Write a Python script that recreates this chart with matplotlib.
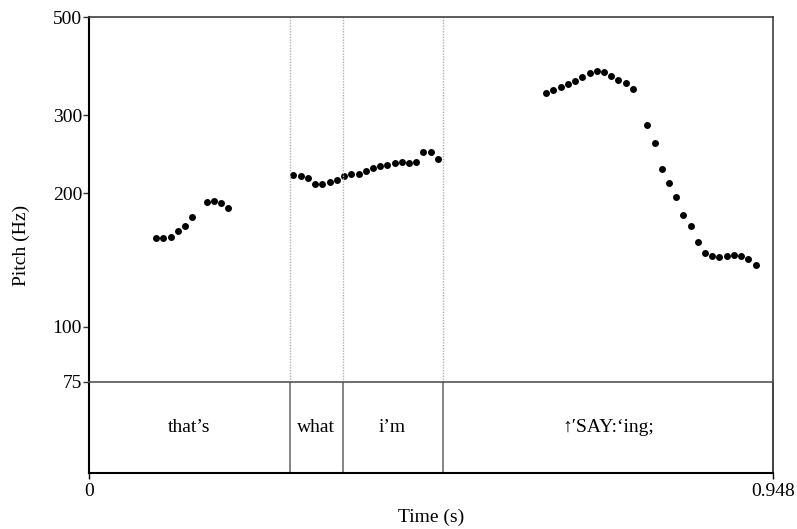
import matplotlib
matplotlib.use("Agg")
import matplotlib.pyplot as plt
from matplotlib.ticker import FixedLocator, FixedFormatter, NullLocator

plt.rcParams['font.family'] = ['Liberation Serif', 'DejaVu Serif']

# pitch track (s, Hz)
t_pitch = [0.0929, 0.1030, 0.1132, 0.1234, 0.1331, 0.1432, 0.1631, 0.1733, 0.1830, 0.1931,
           0.2832, 0.2934, 0.3035, 0.3132, 0.3234, 0.3336, 0.3437, 0.3534, 0.3636, 0.3738,
           0.3835, 0.3936, 0.4033, 0.4134, 0.4237, 0.4334, 0.4435, 0.4532, 0.4633, 0.4736,
           0.4837,
           0.6334, 0.6435, 0.6538, 0.6639, 0.6736, 0.6837, 0.6940, 0.7037, 0.7138, 0.7235,
           0.7336, 0.7439, 0.7540,
           0.7738, 0.7841, 0.7938, 0.8039, 0.8140, 0.8237, 0.8340, 0.8441, 0.8538, 0.8635,
           0.8736, 0.8838, 0.8940, 0.9041, 0.9138, 0.9240]
f0_hz = [158.3, 158.3, 159.6, 164.4, 169.0, 176.8, 190.8, 192.2, 190.5, 185.3,
         220.3, 218.8, 216.2, 210.2, 210.2, 212.4, 213.9, 218.4, 220.8, 221.1,
         224.6, 228.5, 230.8, 231.3, 233.8, 235.7, 233.8, 235.7, 248.3, 248.3,
         238.6,
         336.3, 342.7, 348.0, 353.0, 359.0, 366.0, 373.7, 377.6, 376.2, 368.6,
         361.0, 354.8, 343.9,
         285.7, 259.3, 226.6, 211.0, 196.5, 178.4, 169.0, 155.3, 146.6, 144.2,
         143.4, 144.6, 145.1, 144.2, 142.2, 137.8]

# text tier
bounds = [0.0, 0.2786, 0.3516, 0.4902, 0.948]
words = ["that\u2019s", "what", "i\u2019m", "\u2191\u2032SAY:\u2018ing;"]

y_ticks = [75, 100, 200, 300, 500]
t_max = 0.948

fig = plt.figure(figsize=(7.97, 5.29), dpi=100)
left, width = 89 / 797, 684 / 797
ax = fig.add_axes([left, 1 - 382 / 529, width, 365 / 529])
tier = fig.add_axes([left, 1 - 473 / 529, width, 91 / 529])
tier.patch.set_visible(False)

fs = 14

# pitch panel
ax.plot(t_pitch, f0_hz, 'o', color='black', ms=5, mew=0)
ax.set_yscale('log')
ax.set_ylim(75, 500)
ax.set_xlim(0, t_max)
ax.yaxis.set_major_locator(FixedLocator(y_ticks))
ax.yaxis.set_major_formatter(FixedFormatter([str(v) for v in y_ticks]))
ax.yaxis.set_minor_locator(NullLocator())
ax.set_xticks([])
ax.tick_params(axis='y', direction='out', length=4, width=1, labelsize=fs, pad=1, color='#333333')
for b in bounds[1:-1]:
    ax.axvline(b, color='#b0b0b0', lw=1, ls=(0, (1, 1)))
ax.spines['left'].set_color('black')
ax.spines['left'].set_linewidth(1.5)
for s in ('top', 'right'):
    ax.spines[s].set_color('#404040')
    ax.spines[s].set_linewidth(1.2)
ax.spines['bottom'].set_visible(False)

# tier panel
tier.set_xlim(0, t_max)
tier.set_ylim(0, 1)
tier.set_yticks([])
tier.set_xticks([0, t_max])
tier.set_xticklabels(['0', '0.948'])
tier.tick_params(axis='x', direction='out', length=4, width=1, labelsize=fs, pad=3)
for b in bounds[1:-1]:
    tier.axvline(b, color='#707070', lw=1.2)
for i, w in enumerate(words):
    tier.text((bounds[i] + bounds[i + 1]) / 2, 0.5, w, ha='center', va='center', fontsize=fs)
tier.spines['top'].set_color('#555555')
tier.spines['top'].set_linewidth(1.2)
tier.spines['left'].set_color('black')
tier.spines['left'].set_linewidth(1.5)
tier.spines['bottom'].set_color('black')
tier.spines['bottom'].set_linewidth(1.5)
tier.spines['right'].set_color('#202020')
tier.spines['right'].set_linewidth(1.2)

fig.text(21 / 797, 1 - 245 / 529, 'Pitch (Hz)', rotation=90, ha='center', va='center', fontsize=fs)
fig.text(431 / 797, 1 - 517 / 529, 'Time (s)', ha='center', va='center', fontsize=fs)

fig.savefig('out.png', dpi=100)
